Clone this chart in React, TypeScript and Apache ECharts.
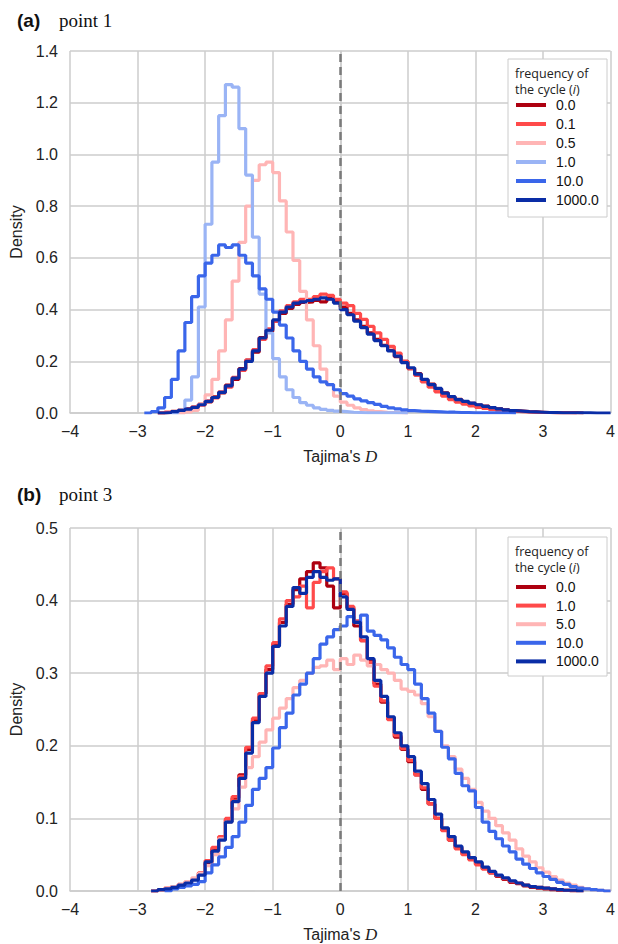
import React, { useEffect, useRef } from 'react';
import * as echarts from 'echarts';

// bin left edges (width 0.1)
const X = [-3.0, -2.9,
  -2.8, -2.7, -2.6, -2.5, -2.4, -2.3, -2.2, -2.1, -2.0, -1.9,
  -1.8, -1.7, -1.6, -1.5, -1.4, -1.3, -1.2, -1.1, -1.0, -0.9,
  -0.8, -0.7, -0.6, -0.5, -0.4, -0.3, -0.2, -0.1, 0.0, 0.1,
  0.2, 0.3, 0.4, 0.5, 0.6, 0.7, 0.8, 0.9, 1.0, 1.1,
  1.2, 1.3, 1.4, 1.5, 1.6, 1.7, 1.8, 1.9, 2.0, 2.1,
  2.2, 2.3, 2.4, 2.5, 2.6, 2.7, 2.8, 2.9, 3.0, 3.1,
  3.2, 3.3, 3.4, 3.5, 3.6, 3.7, 3.8, 3.9, 4.0];

// ---------- panel (a) point 1 ----------
const A_LABELS = ['0.0', '0.1', '0.5', '1.0', '10.0', '1000.0'];
const A_0_0 = [null, null,
  null, 0, 0.002, 0.006, 0.009, 0.016, 0.02, 0.034, 0.043, 0.062,
  0.078, 0.108, 0.13, 0.172, 0.205, 0.235, 0.292, 0.315, 0.355, 0.385,
  0.405, 0.42, 0.428, 0.43, 0.435, 0.43, 0.442, 0.43, 0.41, 0.385,
  0.36, 0.335, 0.31, 0.285, 0.262, 0.242, 0.218, 0.2, 0.172, 0.152,
  0.128, 0.112, 0.093, 0.078, 0.062, 0.053, 0.044, 0.037, 0.031, 0.027,
  0.02, 0.016, 0.012, 0.009, 0.007, 0.005, 0.004, 0.003, 0.002, 0.001,
  0.001, 0.001, 0.001, 0, null, null, null, null, null];
const A_0_1 = [null, null,
  null, 0, 0.003, 0.005, 0.011, 0.014, 0.024, 0.03, 0.047, 0.058,
  0.082, 0.1, 0.138, 0.165, 0.205, 0.245, 0.285, 0.325, 0.355, 0.395,
  0.415, 0.43, 0.44, 0.44, 0.45, 0.46, 0.455, 0.44, 0.425, 0.415,
  0.385, 0.362, 0.335, 0.31, 0.285, 0.258, 0.232, 0.2, 0.172, 0.145,
  0.12, 0.1, 0.082, 0.065, 0.052, 0.042, 0.034, 0.027, 0.022, 0.018,
  0.014, 0.011, 0.009, 0.007, 0.005, 0.004, 0.003, 0.002, 0.002, 0.001,
  0.001, 0.001, 0, null, null, null, null, null, null];
const A_0_5 = [null, null,
  null, null, null, null, 0, 0.004, 0.01, 0.035, 0.07, 0.13,
  0.24, 0.36, 0.51, 0.66, 0.8, 0.9, 0.96, 0.97, 0.93, 0.82,
  0.7, 0.59, 0.47, 0.36, 0.26, 0.17, 0.11, 0.065, 0.042, 0.03,
  0.02, 0.013, 0.008, 0.005, 0.003, 0.002, 0.001, 0, null, null,
  null, null, null, null, null, null, null, null, null, null,
  null, null, null, null, null, null, null, null, null, null,
  null, null, null, null, null, null, null, null, null];
const A_1_0 = [null, null,
  null, null, null, 0, 0.01, 0.05, 0.14, 0.41, 0.73, 0.97,
  1.15, 1.27, 1.26, 1.1, 0.92, 0.68, 0.46, 0.31, 0.21, 0.14,
  0.09, 0.06, 0.04, 0.03, 0.02, 0.014, 0.01, 0.007, 0.005, 0.003,
  0.002, 0.001, 0.001, 0.001, 0.001, 0.001, 0.001, 0, null, null,
  null, null, null, null, null, null, null, null, null, null,
  null, null, null, null, null, null, null, null, null, null,
  null, null, null, null, null, null, null, null, null];
const A_10_0 = [null, 0,
  0.005, 0.02, 0.06, 0.13, 0.24, 0.35, 0.45, 0.53, 0.58, 0.61,
  0.65, 0.64, 0.65, 0.61, 0.58, 0.53, 0.48, 0.44, 0.39, 0.34,
  0.29, 0.24, 0.2, 0.17, 0.14, 0.12, 0.11, 0.09, 0.075, 0.065,
  0.055, 0.047, 0.04, 0.033, 0.026, 0.02, 0.016, 0.012, 0.009, 0.007,
  0.006, 0.005, 0.004, 0.003, 0.003, 0.002, 0.002, 0.001, 0.001, 0.001,
  0.001, 0.001, 0.001, 0, null, null, null, null, null, null,
  null, null, null, null, null, null, null, null, null];
const A_1000_0 = [null, null,
  null, 0, 0.002, 0.005, 0.01, 0.015, 0.022, 0.032, 0.045, 0.06,
  0.08, 0.105, 0.135, 0.17, 0.2, 0.24, 0.29, 0.32, 0.36, 0.39,
  0.41, 0.425, 0.43, 0.435, 0.44, 0.445, 0.44, 0.425, 0.4, 0.38,
  0.355, 0.33, 0.305, 0.28, 0.26, 0.24, 0.22, 0.195, 0.175, 0.15,
  0.13, 0.11, 0.095, 0.077, 0.063, 0.052, 0.045, 0.038, 0.032, 0.026,
  0.021, 0.016, 0.012, 0.009, 0.007, 0.005, 0.004, 0.003, 0.002, 0.002,
  0.001, 0.001, 0.001, 0.001, 0.001, 0, 0, 0, 0];

// ---------- panel (b) point 3 ----------
const B_LABELS = ['0.0', '1.0', '5.0', '10.0', '1000.0'];
const B_0_0 = [null, null,
  0, 0.002, 0.003, 0.006, 0.008, 0.012, 0.016, 0.024, 0.038, 0.058,
  0.072, 0.098, 0.128, 0.16, 0.195, 0.235, 0.272, 0.305, 0.34, 0.37,
  0.395, 0.415, 0.43, 0.44, 0.452, 0.445, 0.42, 0.39, 0.41, 0.39,
  0.365, 0.345, 0.318, 0.285, 0.26, 0.238, 0.212, 0.195, 0.178, 0.16,
  0.14, 0.12, 0.1, 0.084, 0.07, 0.06, 0.052, 0.045, 0.038, 0.031,
  0.025, 0.02, 0.016, 0.012, 0.01, 0.007, 0.005, 0.004, 0.003, 0.002,
  0.001, 0.001, 0, null, null, null, null, null, null];
const B_1_0 = [null, null,
  0, 0.002, 0.004, 0.006, 0.009, 0.012, 0.017, 0.025, 0.042, 0.06,
  0.075, 0.1, 0.13, 0.158, 0.198, 0.238, 0.272, 0.31, 0.342, 0.375,
  0.4, 0.405, 0.42, 0.39, 0.425, 0.44, 0.445, 0.43, 0.412, 0.392,
  0.372, 0.345, 0.315, 0.282, 0.262, 0.236, 0.214, 0.196, 0.18, 0.16,
  0.142, 0.12, 0.1, 0.083, 0.07, 0.058, 0.05, 0.043, 0.036, 0.03,
  0.025, 0.021, 0.017, 0.013, 0.011, 0.008, 0.006, 0.005, 0.004, 0.003,
  0.002, 0.001, 0.001, 0, null, null, null, null, null];
const B_5_0 = [null, null,
  0, 0.002, 0.004, 0.006, 0.009, 0.013, 0.018, 0.024, 0.035, 0.05,
  0.072, 0.095, 0.113, 0.143, 0.17, 0.185, 0.205, 0.222, 0.238, 0.252,
  0.265, 0.28, 0.29, 0.3, 0.308, 0.31, 0.318, 0.305, 0.32, 0.312,
  0.325, 0.318, 0.31, 0.312, 0.305, 0.3, 0.29, 0.278, 0.275, 0.27,
  0.258, 0.24, 0.22, 0.2, 0.185, 0.168, 0.155, 0.14, 0.122, 0.11,
  0.1, 0.09, 0.08, 0.07, 0.058, 0.048, 0.04, 0.032, 0.026, 0.02,
  0.015, 0.011, 0.008, 0.005, 0.003, 0.002, 0.001, 0, null];
const B_10_0 = [null, null,
  null, null, 0, 0.003, 0.005, 0.007, 0.009, 0.013, 0.025, 0.036,
  0.047, 0.06, 0.075, 0.095, 0.118, 0.14, 0.155, 0.17, 0.197, 0.225,
  0.245, 0.27, 0.285, 0.3, 0.32, 0.34, 0.35, 0.36, 0.365, 0.378,
  0.37, 0.38, 0.358, 0.352, 0.346, 0.335, 0.322, 0.312, 0.305, 0.285,
  0.265, 0.245, 0.22, 0.198, 0.182, 0.162, 0.145, 0.138, 0.115, 0.095,
  0.082, 0.072, 0.062, 0.054, 0.044, 0.037, 0.031, 0.025, 0.02, 0.016,
  0.012, 0.009, 0.006, 0.004, 0.003, 0.002, 0.001, 0, null];
const B_1000_0 = [null, null,
  0, 0.002, 0.003, 0.005, 0.008, 0.011, 0.015, 0.022, 0.04, 0.055,
  0.07, 0.095, 0.123, 0.155, 0.19, 0.232, 0.268, 0.3, 0.337, 0.365,
  0.392, 0.418, 0.41, 0.432, 0.44, 0.432, 0.428, 0.43, 0.405, 0.388,
  0.37, 0.35, 0.32, 0.29, 0.268, 0.24, 0.218, 0.2, 0.185, 0.165,
  0.148, 0.126, 0.106, 0.087, 0.075, 0.062, 0.054, 0.046, 0.04, 0.033,
  0.027, 0.022, 0.018, 0.014, 0.011, 0.008, 0.006, 0.005, 0.004, 0.003,
  0.002, 0.001, 0.001, 0, null, null, null, null, null];

const C_DARKRED = '#ad0010';
const C_RED = '#ff4a4a';
const C_PINK = '#ffb5b5';
const C_LIGHTBLUE = '#9ab4f5';
const C_BLUE = '#3a66ea';
const C_NAVY = '#0a2da6';

const A_SERIES = [A_0_0, A_0_1, A_0_5, A_1_0, A_10_0, A_1000_0];
const A_COLORS = [C_DARKRED, C_RED, C_PINK, C_LIGHTBLUE, C_BLUE, C_NAVY];
const B_SERIES = [B_0_0, B_1_0, B_5_0, B_10_0, B_1000_0];
const B_COLORS = [C_DARKRED, C_RED, C_PINK, C_BLUE, C_NAVY];

const SANS = '"Liberation Sans", Arial, sans-serif';
const SERIF = '"Liberation Serif", "Times New Roman", serif';
const LEG = '"Open Sans", "Noto Sans", sans-serif';
const GRID_C = '#cccccc';
const TXT = '#222222';

function fmtX(v: number) {
  return v < 0 ? '\u2212' + Math.abs(v) : String(v);
}

function mkSeries(name: string, arr: (number | null)[], color: string, gi: number, withMark: boolean) {
  const s: any = {
    type: 'line',
    name: name + (gi === 0 ? ' (a)' : ' (b)'),
    xAxisIndex: gi,
    yAxisIndex: gi,
    step: 'end',
    symbol: 'none',
    showSymbol: false,
    connectNulls: false,
    data: X.map((x, i) => [x, arr[i] == null ? '-' : arr[i]]),
    lineStyle: { color, width: 3.2 },
    itemStyle: { color },
  };
  if (withMark) {
    s.markLine = {
      silent: true,
      symbol: 'none',
      label: { show: false },
      lineStyle: { color: '#7a7a7a', width: 2.5, type: [8, 5] },
      data: [{ xAxis: 0 }],
    };
  }
  return s;
}

function legendGraphics(top: number, height: number, labels: string[], colors: string[], firstY: number, gap: number) {
  const els: any[] = [
    { type: 'rect', shape: { x: 508, y: top, width: 99, height }, style: { fill: '#ffffff', stroke: '#cccccc', lineWidth: 1 }, z: 100 },
    { type: 'text', x: 515, y: top + 14, z: 101, style: { text: 'frequency of', fontSize: 12.5, fontFamily: LEG, fill: '#222', verticalAlign: 'middle' } },
    {
      type: 'text', x: 515, y: top + 30, z: 101,
      style: {
        text: '{n|the cycle (}{it|i}{n|)}', verticalAlign: 'middle', fill: '#222',
        rich: {
          n: { fontSize: 12.5, fontFamily: LEG, fill: '#222' },
          it: { fontSize: 12.5, fontFamily: LEG, fontStyle: 'italic', fill: '#222' },
        },
      },
    },
  ];
  labels.forEach((lab, i) => {
    const y = firstY + i * gap;
    els.push({ type: 'line', z: 101, shape: { x1: 516, y1: y, x2: 546, y2: y }, style: { stroke: colors[i], lineWidth: 4 } });
    els.push({ type: 'text', z: 101, x: 556, y, style: { text: lab, fontSize: 14, fontFamily: SANS, fill: '#111', verticalAlign: 'middle' } });
  });
  return els;
}

function xAxis(gi: number) {
  return {
    type: 'value', gridIndex: gi, min: -4, max: 4, interval: 1,
    axisLine: { show: true, lineStyle: { color: GRID_C, width: 1.5 } },
    axisTick: { show: false },
    splitLine: { show: true, lineStyle: { color: GRID_C, width: 1.5 } },
    axisLabel: { formatter: fmtX, fontSize: 16, fontFamily: SANS, color: TXT, margin: 10 },
    name: "Tajima's {d|D}",
    nameLocation: 'middle',
    nameGap: 35,
    nameTextStyle: {
      fontSize: 16, fontFamily: SANS, color: TXT,
      rich: { d: { fontSize: 17, fontFamily: SERIF, fontStyle: 'italic', color: TXT } },
    },
  };
}

function yAxis(gi: number, max: number, interval: number) {
  return {
    type: 'value', gridIndex: gi, min: 0, max, interval,
    axisLine: { show: true, lineStyle: { color: GRID_C, width: 1.5 } },
    axisTick: { show: false },
    splitLine: { show: true, lineStyle: { color: GRID_C, width: 1.5 } },
    axisLabel: { formatter: (v: number) => v.toFixed(1), fontSize: 16, fontFamily: SANS, color: TXT, margin: 12 },
    name: 'Density',
    nameLocation: 'middle',
    nameGap: 45,
    nameTextStyle: { fontSize: 16, fontFamily: SANS, color: TXT },
  };
}

export default function App() {
  const ref = useRef<HTMLDivElement>(null);
  useEffect(() => {
    const chart = echarts.init(ref.current!, null, { renderer: 'svg' });
    const series: any[] = [];
    A_SERIES.forEach((arr, i) => series.push(mkSeries(A_LABELS[i], arr, A_COLORS[i], 0, i === 0)));
    B_SERIES.forEach((arr, i) => series.push(mkSeries(B_LABELS[i], arr, B_COLORS[i], 1, i === 0)));
    const option: any = {
      animation: false,
      backgroundColor: '#ffffff',
      grid: [
        { left: 70, top: 51, width: 544, height: 362 },
        { left: 70, top: 528, width: 544, height: 363 },
      ],
      xAxis: [xAxis(0), xAxis(1)],
      yAxis: [yAxis(0, 1.4, 0.2), yAxis(1, 0.5, 0.1)],
      series,
      graphic: [
        { type: 'text', x: 17, y: 20, style: { text: '(a)', fontSize: 19, fontWeight: 'bold', fontFamily: SANS, fill: '#111', verticalAlign: 'middle' } },
        { type: 'text', x: 59, y: 20, style: { text: 'point 1', fontSize: 19, fontFamily: SERIF, fill: '#111', verticalAlign: 'middle' } },
        { type: 'text', x: 17, y: 494, style: { text: '(b)', fontSize: 19, fontWeight: 'bold', fontFamily: SANS, fill: '#111', verticalAlign: 'middle' } },
        { type: 'text', x: 59, y: 494, style: { text: 'point 3', fontSize: 19, fontFamily: SERIF, fill: '#111', verticalAlign: 'middle' } },
        ...legendGraphics(59, 158, A_LABELS, A_COLORS, 105, 19),
        ...legendGraphics(537, 139, B_LABELS, B_COLORS, 587, 18.6),
      ],
    };
    chart.setOption(option);
    return () => chart.dispose();
  }, []);
  return (
    <div
      ref={ref}
      style={{ position: 'absolute', left: 0, top: 0, width: 618, height: 944, background: '#ffffff' }}
    />
  );
}
